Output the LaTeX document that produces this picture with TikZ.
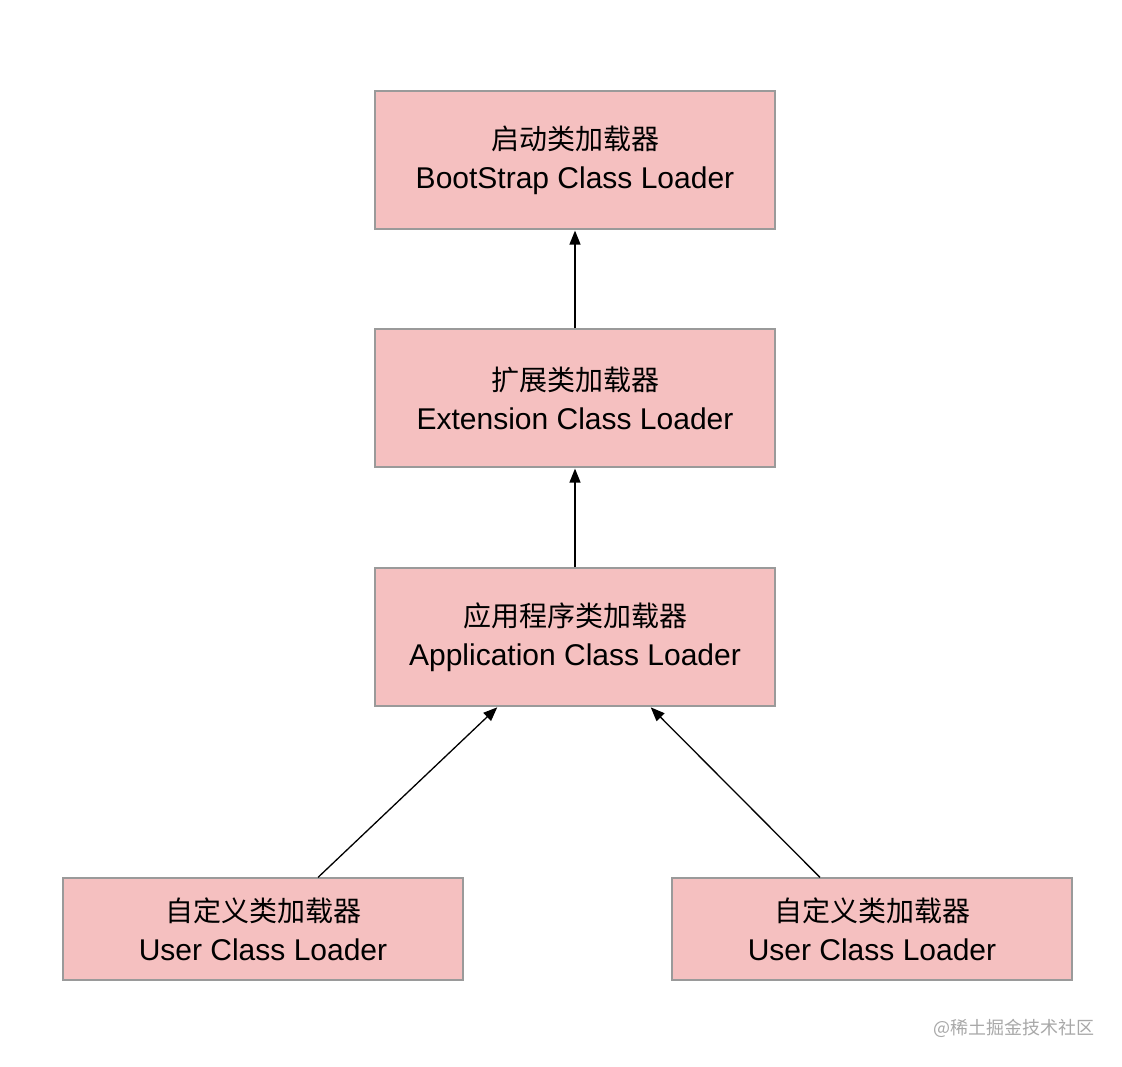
\documentclass[tikz,border=0pt]{standalone}
\usepackage{fontspec}
\setmainfont{Liberation Sans}
\newfontfamily\cjk{Noto Sans CJK SC}
\usetikzlibrary{arrows.meta}
\definecolor{boxfill}{HTML}{F5C0C0}
\definecolor{boxline}{HTML}{9A9A9A}
\definecolor{wm}{HTML}{A8A8A8}
\newcommand{\cjkline}[1]{{\cjk\fontsize{28}{39}\selectfont #1}}
\tikzset{
  loader/.style={draw=boxline, line width=1.2pt, fill=boxfill, minimum width=400pt, align=center, font=\fontsize{30}{39}\selectfont, inner sep=0pt},
  tall/.style={minimum height=138pt},
  short/.style={minimum height=102pt},
  link/.style={-{Triangle[length=14pt,width=11pt]}, line width=1.3pt, shorten >=1pt}
}
\begin{document}
\begin{tikzpicture}[x=1pt,y=-1pt]
\useasboundingbox (0,0) rectangle (1122,1066);
\node[loader,tall] (boot) at (575,160) {\cjkline{启动类加载器}\\BootStrap Class Loader};
\node[loader,tall] (ext) at (575,398) {\cjkline{扩展类加载器}\\Extension Class Loader};
\node[loader,tall] (app) at (575,637) {\cjkline{应用程序类加载器}\\Application Class Loader};
\node[loader,short] (u1) at (263,929) {\cjkline{自定义类加载器}\\User Class Loader};
\node[loader,short] (u2) at (872,929) {\cjkline{自定义类加载器}\\User Class Loader};
\draw[link] (ext.north) -- (boot.south);
\draw[link] (app.north) -- (ext.south);
\draw[link] (u1.north -| 318,0) -- (app.south -| 498,0);
\draw[link] (u2.north -| 820,0) -- (app.south -| 650,0);
\node[text=wm, font=\cjk\fontsize{18}{20}\selectfont, anchor=east, inner sep=0pt] (wmk) at (1095,1028) {@稀土掘金技术社区};
\end{tikzpicture}
\end{document}
